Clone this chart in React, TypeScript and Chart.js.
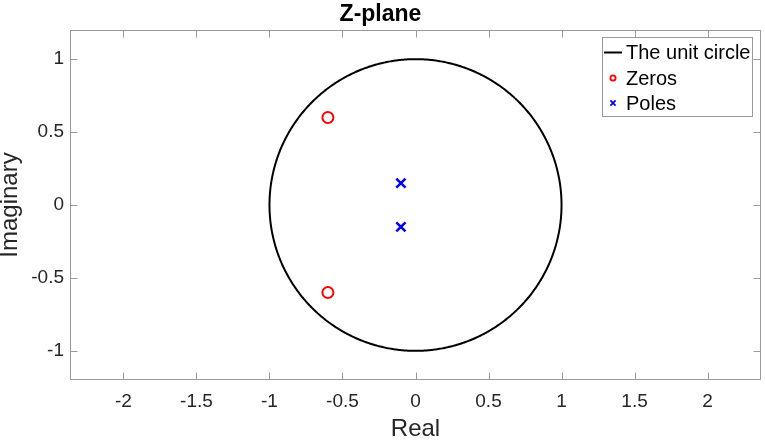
import React, { useEffect, useRef } from 'react';
import { Chart, registerables } from 'chart.js';

Chart.register(...registerables);

const TITLE = 'Z-plane';
const X_LABEL = 'Real';
const Y_LABEL = 'Imaginary';
const X_TICKS = [-2, -1.5, -1, -0.5, 0, 0.5, 1, 1.5, 2];
const Y_TICKS = [-1, -0.5, 0, 0.5, 1];
const X_MIN = -2.366;
const X_MAX = 2.366;
const Y_MIN = -1.2;
const Y_MAX = 1.2;
const ZEROS_RE = [-0.6, -0.6];
const ZEROS_IM = [0.6, -0.6];
const POLES_RE = [-0.1, -0.1];
const POLES_IM = [0.15, -0.15];
const UNIT_RADIUS = 1;
const CIRCLE_STEPS = 360;
const SERIES_LABELS = ['The unit circle', 'Zeros', 'Poles'];

const FONT = '"Liberation Sans", Arial, Helvetica, sans-serif';
const AXIS_GRAY = '#9a9a9a';

const circlePoints = Array.from({ length: CIRCLE_STEPS + 1 }, (_, i) => {
  const t = (i / CIRCLE_STEPS) * Math.PI * 2;
  return { x: UNIT_RADIUS * Math.cos(t), y: UNIT_RADIUS * Math.sin(t) };
});
const zeroPoints = ZEROS_RE.map((re, i) => ({ x: re, y: ZEROS_IM[i] }));
const polePoints = POLES_RE.map((re, i) => ({ x: re, y: POLES_IM[i] }));

const framePlugin = {
  id: 'matlabFrame',
  afterDatasetsDraw(chart: any) {
    const { ctx, chartArea: a, scales } = chart;
    ctx.save();
    ctx.strokeStyle = AXIS_GRAY;
    ctx.lineWidth = 1;
    const L = Math.round(a.left) + 0.5;
    const R = Math.round(a.right) - 0.5;
    const T = Math.round(a.top) + 0.5;
    const B = Math.round(a.bottom) - 0.5;
    ctx.strokeRect(L, T, R - L, B - T);
    ctx.beginPath();
    const len = 7;
    for (const v of X_TICKS) {
      const x = Math.round(scales.x.getPixelForValue(v)) + 0.5;
      ctx.moveTo(x, B);
      ctx.lineTo(x, B - len);
      ctx.moveTo(x, T);
      ctx.lineTo(x, T + len);
    }
    for (const v of Y_TICKS) {
      const y = Math.round(scales.y.getPixelForValue(v)) + 0.5;
      ctx.moveTo(L, y);
      ctx.lineTo(L + len, y);
      ctx.moveTo(R, y);
      ctx.lineTo(R - len, y);
    }
    ctx.stroke();
    ctx.restore();
  },
};

const legendBoxPlugin = {
  id: 'insideLegend',
  afterDraw(chart: any) {
    const { ctx, chartArea: a } = chart;
    const w = 151;
    const h = 80;
    const right = Math.round(a.right) - 8;
    const left = right - w;
    const top = Math.round(a.top) + 7;
    ctx.save();
    ctx.fillStyle = '#ffffff';
    ctx.fillRect(left, top, w, h);
    ctx.strokeStyle = AXIS_GRAY;
    ctx.lineWidth = 1;
    ctx.strokeRect(left + 0.5, top + 0.5, w - 1, h - 1);
    const rows = [top + 15.5, top + 41, top + 66];
    const ds = chart.data.datasets;
    const mx = left + 11;
    ctx.strokeStyle = ds[0].borderColor;
    ctx.lineWidth = 2;
    ctx.beginPath();
    ctx.moveTo(left + 2, rows[0]);
    ctx.lineTo(left + 20, rows[0]);
    ctx.stroke();
    ctx.strokeStyle = ds[1].borderColor;
    ctx.lineWidth = 1.8;
    ctx.beginPath();
    ctx.arc(mx, rows[1], 2.6, 0, Math.PI * 2);
    ctx.stroke();
    ctx.strokeStyle = ds[2].borderColor;
    ctx.lineWidth = 1.8;
    ctx.beginPath();
    const c = 2.6;
    ctx.moveTo(mx - c, rows[2] - c);
    ctx.lineTo(mx + c, rows[2] + c);
    ctx.moveTo(mx + c, rows[2] - c);
    ctx.lineTo(mx - c, rows[2] + c);
    ctx.stroke();
    ctx.fillStyle = '#000000';
    ctx.font = `20px ${FONT}`;
    ctx.textBaseline = 'middle';
    ctx.textAlign = 'left';
    SERIES_LABELS.forEach((t, i) => ctx.fillText(t, left + 24, rows[i] + 1));
    ctx.restore();
  },
};

export default function App() {
  const ref = useRef<HTMLCanvasElement | null>(null);

  useEffect(() => {
    document.body.style.margin = '0';
    if (!ref.current) return;
    const chart = new Chart(ref.current, {
      type: 'scatter',
      data: {
        datasets: [
          {
            label: SERIES_LABELS[0],
            data: circlePoints,
            showLine: true,
            borderColor: '#000000',
            borderWidth: 2,
            pointRadius: 0,
            pointHoverRadius: 0,
            fill: false,
            tension: 0.00001,
            cubicInterpolationMode: 'default',
            order: 3,
          } as any,
          {
            label: SERIES_LABELS[1],
            data: zeroPoints,
            showLine: false,
            pointStyle: 'circle',
            pointRadius: 5.5,
            pointBorderWidth: 2,
            borderColor: '#ff0000',
            backgroundColor: 'rgba(0,0,0,0)',
            pointBackgroundColor: 'rgba(0,0,0,0)',
            pointBorderColor: '#ff0000',
            order: 2,
          } as any,
          {
            label: SERIES_LABELS[2],
            data: polePoints,
            showLine: false,
            pointStyle: 'crossRot',
            pointRadius: 6.5,
            pointBorderWidth: 2.5,
            borderColor: '#0000ff',
            pointBorderColor: '#0000ff',
            backgroundColor: '#0000ff',
            order: 1,
          } as any,
        ],
      },
      options: {
        responsive: false,
        animation: false,
        events: [],
        layout: { autoPadding: false, padding: { left: 0, right: 4, top: 0, bottom: 0 } },
        plugins: {
          legend: { display: false },
          tooltip: { enabled: false },
          title: {
            display: true,
            text: TITLE,
            color: '#000000',
            font: { family: FONT, size: 23, weight: 'bold', lineHeight: 1.2 },
            padding: { top: 1.1, bottom: 1.3 },
          },
        },
        scales: {
          x: {
            type: 'linear',
            min: X_MIN,
            max: X_MAX,
            grid: { display: false, drawTicks: false },
            border: { display: false },
            afterBuildTicks: (s: any) => {
              s.ticks = X_TICKS.map((v) => ({ value: v }));
            },
            afterFit: (s: any) => {
              s.height = 61;
              s.paddingLeft = 0;
              s.paddingRight = 0;
            },
            ticks: {
              color: '#262626',
              padding: 10,
              maxRotation: 0,
              autoSkip: false,
              font: { family: FONT, size: 19 },
              callback: (v: any) => String(v),
            },
            title: {
              display: true,
              text: X_LABEL,
              color: '#262626',
              font: { family: FONT, size: 24, lineHeight: 1 },
              padding: { top: 0, bottom: 0 },
            },
          },
          y: {
            type: 'linear',
            min: Y_MIN,
            max: Y_MAX,
            grid: { display: false, drawTicks: false },
            border: { display: false },
            afterBuildTicks: (s: any) => {
              s.ticks = Y_TICKS.map((v) => ({ value: v }));
            },
            afterFit: (s: any) => {
              s.width = 70;
              s.paddingTop = 0;
              s.paddingBottom = 0;
            },
            ticks: {
              color: '#262626',
              padding: 6,
              autoSkip: false,
              font: { family: FONT, size: 19 },
              callback: (v: any) => String(v),
            },
            title: {
              display: true,
              text: Y_LABEL,
              color: '#262626',
              font: { family: FONT, size: 24, lineHeight: 0.9 },
              padding: { top: 0, bottom: 0 },
            },
          },
        },
      },
      plugins: [framePlugin, legendBoxPlugin],
    });
    return () => chart.destroy();
  }, []);

  return <canvas ref={ref} width={765} height={441} style={{ display: 'block' }} />;
}
